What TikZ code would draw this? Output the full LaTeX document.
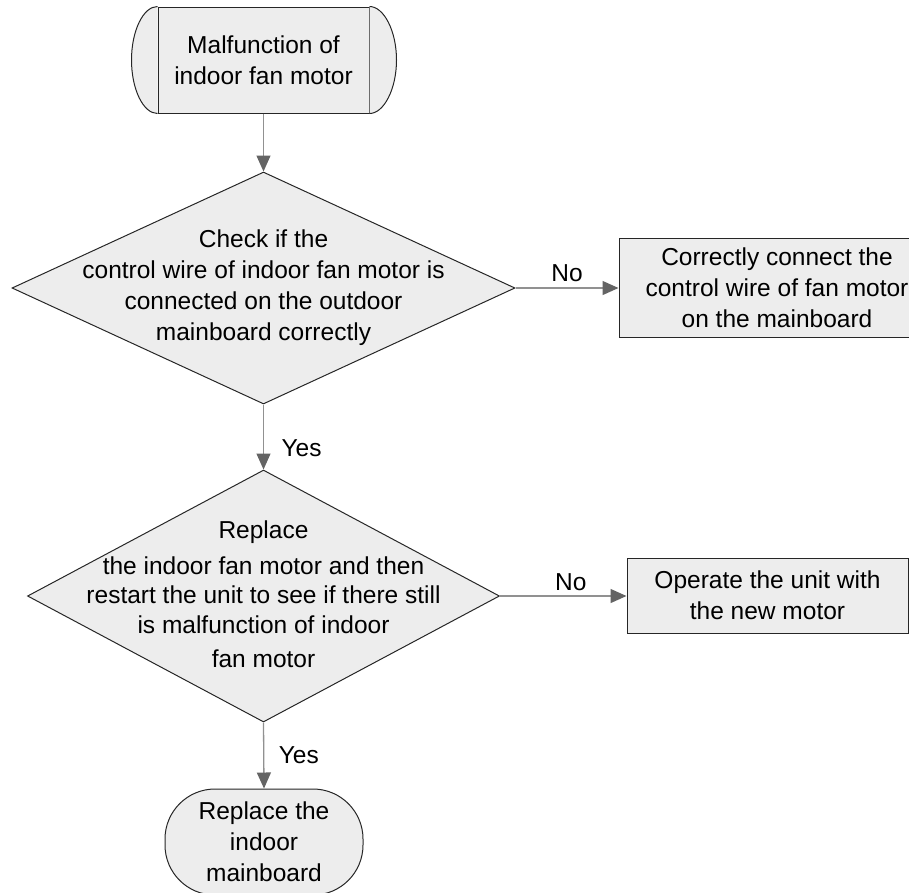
\documentclass[tikz,border=0pt]{standalone}
\usepackage{fontspec}
\setmainfont{Liberation Sans}
\usetikzlibrary{shapes.geometric,arrows.meta}
\definecolor{shapefill}{RGB}{237,237,237}
\definecolor{linegray}{RGB}{145,145,145}
\definecolor{tipgray}{RGB}{100,100,100}
\tikzset{
  txt/.style={font=\fontsize{24.5}{31}\selectfont, align=center, inner sep=0pt},
  shapebox/.style={draw=black!85, line width=1pt, fill=shapefill},
  rectbox/.style={shapebox, rectangle, inner sep=0pt, txt},
  dia/.style={shapebox, diamond, inner sep=0pt},
  conn/.style={draw=linegray, line width=1.3pt, -{Triangle[length=16pt,width=14pt,color=tipgray]}},
  lbl/.style={txt, midway},
}
\begin{document}
\begin{tikzpicture}[x=1pt,y=-1pt]
\useasboundingbox (0,0) rectangle (909,892);
% start node
\node[rectbox, minimum width=211pt, minimum height=106pt] (start) at (263.5,60) {Malfunction of\\indoor fan motor};
\draw[shapebox] (start.north west) .. controls +(-14.4,0) and +(0,-29) .. ([xshift=-26pt]start.west)
  .. controls +(0,29) and +(-14.4,0) .. (start.south west);
\draw[shapebox] (start.north east) .. controls +(14.4,0) and +(0,-29) .. ([xshift=27pt]start.east)
  .. controls +(0,29) and +(14.4,0) .. (start.south east);
% decision 1
\node[dia, minimum width=503pt, minimum height=232pt] (d1) at (263.5,288) {};
\node[txt] (d1t) at (d1.center) {Check if the\\control wire of indoor fan motor is\\connected on the outdoor\\mainboard correctly};
% box 1
\node[rectbox, minimum width=316pt, minimum height=99pt] (b1) at (777,287.5) {Correctly connect the\\control wire of fan motor\\on the mainboard};
% decision 2
\node[dia, minimum width=472pt, minimum height=252pt] (d2) at (263.5,596) {};
\node[txt] (d2t) at (263.5,594.5) {Replace\\[5pt]the indoor fan motor and then\\[-2pt]restart the unit to see if there still\\[-1pt]is malfunction of indoor\\[3pt]fan motor};
% box 2
\node[rectbox, minimum width=281pt, minimum height=75pt] (b2) at (767.5,595.5) {Operate the unit with\\the new motor};
% end node
\node[rectbox, rounded corners=50pt, minimum width=198pt, minimum height=106pt] (end) at (264,842) {Replace the\\indoor\\mainboard};
% connectors
\draw[conn] (start.south) -- (d1.north);
\draw[conn] (d1.east) -- node[lbl, yshift=15pt] (no1) {No} (d1.east -| b1.west);
\draw[conn] (d1.south) -- node[lbl, xshift=38pt, yshift=-11pt] (yes1) {Yes} (d2.north);
\draw[conn] (d2.east) -- node[lbl, xshift=7.5pt, yshift=14pt] (no2) {No} (d2.east -| b2.west);
\draw[conn] (d2.south) -- node[lbl, xshift=35pt, yshift=0pt] (yes2) {Yes} (end.north);
\end{tikzpicture}
\end{document}
